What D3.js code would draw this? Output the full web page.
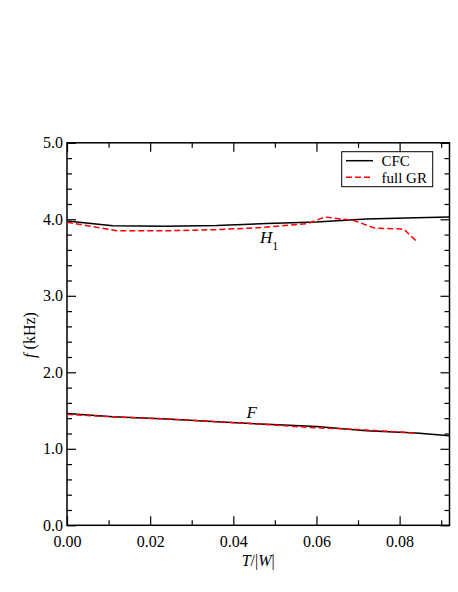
<!DOCTYPE html>
<html>
<head>
<meta charset="utf-8">
<script src="https://cdn.jsdelivr.net/npm/d3@7"></script>
<style>
  body { margin: 0; background: #fff; }
  text { font-family: "Liberation Serif", "Times New Roman", serif; fill: #000; }
</style>
</head>
<body>
<div id="chart"></div>
<script>
// T/|W| sample points
const tCFC = [0, 0.011, 0.024, 0.036, 0.048, 0.060, 0.072, 0.084, 0.092];
const tGR = [0, 0.012, 0.024, 0.036, 0.046, 0.058, 0.062, 0.069, 0.074, 0.081, 0.084];

// frequencies (kHz)
const cfcH1 = [3.978, 3.916, 3.91, 3.92, 3.945, 3.965, 4.005, 4.02, 4.03];
const grH1 = [3.96, 3.85, 3.85, 3.865, 3.89, 3.945, 4.03, 3.985, 3.885, 3.872, 3.715];
const cfcF = [1.46, 1.42, 1.39, 1.355, 1.32, 1.29, 1.235, 1.205, 1.17];
const grF = [1.45, 1.415, 1.39, 1.355, 1.325, 1.28, 1.27, 1.255, 1.24, 1.215, 1.205];

const xMajor = [0, 0.02, 0.04, 0.06, 0.08];
const xMinor = [0.01, 0.03, 0.05, 0.07, 0.09];
const yMajor = [0, 1, 2, 3, 4, 5];
const yMinor = [0.2, 0.4, 0.6, 0.8, 1.2, 1.4, 1.6, 1.8, 2.2, 2.4, 2.6, 2.8,
                3.2, 3.4, 3.6, 3.8, 4.2, 4.4, 4.6, 4.8];

const width = 458;
const height = 592;
const plotLeft = 67, plotRight = 449.5, plotTop = 142.8, plotBottom = 525.3;

const svg = d3.select('#chart')
  .append('svg')
  .attr('width', width)
  .attr('height', height);

const x = d3.scaleLinear().domain([0, 0.092]).range([plotLeft, plotRight]);
const y = d3.scaleLinear().domain([0, 5]).range([plotBottom, plotTop]);

function styleAxis(g) {
  g.select('.domain').remove();
  g.selectAll('line').attr('stroke', '#000').attr('stroke-width', 1.2);
  g.selectAll('text')
    .style('font-family', '"Liberation Serif", serif')
    .style('font-size', '16px');
}

// major + minor ticks on all four sides, pointing inward
svg.append('g').attr('transform', `translate(0,${plotBottom})`)
  .call(d3.axisBottom(x).tickValues(xMajor).tickSize(-9).tickPadding(10).tickFormat(d3.format('.2f')))
  .call(styleAxis);
svg.append('g').attr('transform', `translate(0,${plotBottom})`)
  .call(d3.axisBottom(x).tickValues(xMinor).tickSize(-5).tickFormat(''))
  .call(styleAxis);
svg.append('g').attr('transform', `translate(0,${plotTop})`)
  .call(d3.axisTop(x).tickValues(xMajor).tickSize(-9).tickFormat(''))
  .call(styleAxis);
svg.append('g').attr('transform', `translate(0,${plotTop})`)
  .call(d3.axisTop(x).tickValues(xMinor).tickSize(-5).tickFormat(''))
  .call(styleAxis);

svg.append('g').attr('transform', `translate(${plotLeft},0)`)
  .call(d3.axisLeft(y).tickValues(yMajor).tickSize(-9).tickPadding(4).tickFormat(d3.format('.1f')))
  .call(styleAxis);
svg.append('g').attr('transform', `translate(${plotLeft},0)`)
  .call(d3.axisLeft(y).tickValues(yMinor).tickSize(-5).tickFormat(''))
  .call(styleAxis);
svg.append('g').attr('transform', `translate(${plotRight},0)`)
  .call(d3.axisRight(y).tickValues(yMajor).tickSize(-9).tickFormat(''))
  .call(styleAxis);
svg.append('g').attr('transform', `translate(${plotRight},0)`)
  .call(d3.axisRight(y).tickValues(yMinor).tickSize(-5).tickFormat(''))
  .call(styleAxis);

// frame
svg.append('rect')
  .attr('x', plotLeft)
  .attr('y', plotTop)
  .attr('width', plotRight - plotLeft)
  .attr('height', plotBottom - plotTop)
  .style('fill', 'none')
  .style('stroke', '#000')
  .style('stroke-width', 1.5);

const line = d3.line()
  .x(function(d) { return x(d[0]); })
  .y(function(d) { return y(d[1]); });

function series(ts, vs) {
  return ts.map(function(t, i) { return [t, vs[i]]; });
}

function drawCFC(vs) {
  svg.append('path')
    .attr('d', line(series(tCFC, vs)))
    .attr('fill', 'none')
    .attr('stroke', '#000')
    .attr('stroke-width', 1.5);
}

function drawGR(vs) {
  svg.append('path')
    .attr('d', line(series(tGR, vs)))
    .attr('fill', 'none')
    .attr('stroke', '#ff0000')
    .attr('stroke-width', 1.5)
    .attr('stroke-dasharray', '6,3');
}

drawCFC(cfcH1);
drawGR(grH1);
drawCFC(cfcF);
drawGR(grF);

// mode labels
const h1 = svg.append('text')
  .attr('x', x(0.0464))
  .attr('y', y(3.686))
  .style('font-size', '17px');
h1.append('tspan').style('font-style', 'italic').text('H');
h1.append('tspan').attr('dy', 7).style('font-size', '12px').text('1');

svg.append('text')
  .attr('x', x(0.0432))
  .attr('y', y(1.399))
  .style('font-size', '17px')
  .style('font-style', 'italic')
  .text('F');

// axis titles
const xt = svg.append('text')
  .attr('x', (plotLeft + plotRight) / 2)
  .attr('y', 566)
  .attr('text-anchor', 'middle')
  .style('font-size', '16px');
xt.append('tspan').style('font-style', 'italic').text('T');
xt.append('tspan').text('/|');
xt.append('tspan').style('font-style', 'italic').text('W');
xt.append('tspan').text('|');

const yt = svg.append('text')
  .attr('transform', 'translate(35,335) rotate(-90)')
  .attr('text-anchor', 'middle')
  .style('font-size', '16px');
yt.append('tspan').style('font-style', 'italic').text('f');
yt.append('tspan').text(' (kHz)');

// legend
const legend = svg.append('g');
legend.append('rect')
  .attr('x', 341.7)
  .attr('y', 151.7)
  .attr('width', 91)
  .attr('height', 35)
  .style('fill', '#fff')
  .style('stroke', '#000')
  .style('stroke-width', 1);

const legendItems = [
  { label: 'CFC', color: '#000', dash: null, y: 160.7 },
  { label: 'full GR', color: '#ff0000', dash: '6,3', y: 177.3 }
];
legendItems.forEach(function(item) {
  legend.append('line')
    .attr('x1', 346).attr('x2', 373)
    .attr('y1', item.y).attr('y2', item.y)
    .attr('stroke', item.color)
    .attr('stroke-width', 1.5)
    .attr('stroke-dasharray', item.dash);
  legend.append('text')
    .attr('x', 381.5)
    .attr('y', item.y + 5.5)
    .style('font-size', '15px')
    .text(item.label);
});
</script>
</body>
</html>
